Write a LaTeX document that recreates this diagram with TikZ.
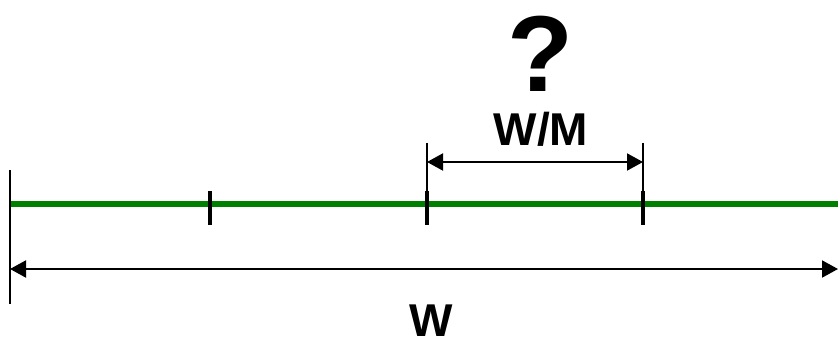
\documentclass[tikz,border=0pt]{standalone}
\usepackage{fontspec}
\setmainfont{Liberation Sans}
\usetikzlibrary{arrows.meta}
\begin{document}
\begin{tikzpicture}[x=1pt,y=-1pt,
  lbl/.style={font=\bfseries\fontsize{46}{46}\selectfont, anchor=base, inner sep=0pt},
  dim/.style={line width=2pt, {Triangle[length=16pt,width=17pt]}-{Triangle[length=16pt,width=17pt]}},
  tickmark/.style={line width=4pt},
  ext/.style={line width=1.6pt}]
\useasboundingbox (0,0) rectangle (838,340);
% coordinates
\coordinate (L0) at (10,203.5);
\coordinate (R0) at (838,203.5);
\coordinate (LT) at (10,170);
\coordinate (LB) at (10,304);
\coordinate (T1t) at (210,191); \coordinate (T1b) at (210,225);
\coordinate (T2t) at (427,191); \coordinate (T2b) at (427,225);
\coordinate (T3t) at (643,191); \coordinate (T3b) at (643,225);
\coordinate (E2) at (427,143); \coordinate (E3) at (643,143);
\coordinate (A2) at (427,162); \coordinate (A3) at (643,162);
\coordinate (WL) at (10,269); \coordinate (WR) at (838,269);
% green line
\draw[line width=6pt, color={rgb,255:red,0;green,128;blue,0}] (L0) -- (R0);
% left boundary
\draw[line width=2pt] (LT) -- (LB);
% ticks
\draw[tickmark] (T1t) -- (T1b);
\draw[tickmark] (T2t) -- (T2b);
\draw[tickmark] (T3t) -- (T3b);
% extension lines
\draw[ext] (E2) -- (T2t);
\draw[ext] (E3) -- (T3t);
% dimension arrows
\draw[dim] (A2) -- (A3);
\draw[dim] (WL) -- (WR);
% labels
\node[lbl] (wm) at (541,145) {W/M};
\node[lbl] (w) at (431.5,336) {W};
\node[lbl, font=\bfseries\fontsize{108}{108}\selectfont] (q) at (540,91) {?};
\end{tikzpicture}
\end{document}
